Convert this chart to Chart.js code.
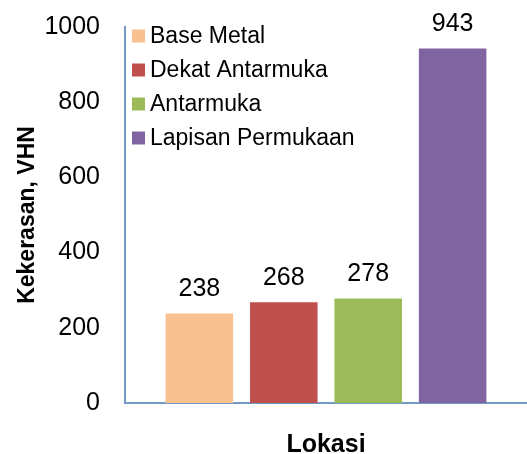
<!DOCTYPE html>
<html>
<head>
<meta charset="utf-8">
<script src="https://cdn.jsdelivr.net/npm/chart.js@4.4.0/dist/chart.umd.min.js"></script>
<style>
  html, body { margin: 0; padding: 0; background: #fff; }
  #wrap { width: 527px; height: 454px; position: relative; }
</style>
</head>
<body>
<div id="wrap"><canvas id="barCanvas"></canvas></div>
<script>
// data
const lokasi = ["Base Metal", "Dekat Antarmuka", "Antarmuka", "Lapisan Permukaan"];
const kekerasan = [238, 268, 278, 943];
const warna = ["#f9c090", "#c0504d", "#9bbb59", "#8064a2"];
const yTicks = [0, 200, 400, 600, 800, 1000];

const axisColor = "#7399c6";
const font = "'Liberation Sans', Arial, sans-serif";

// one dataset per location so each gets its own legend entry
const datasets = lokasi.map((nama, i) => ({
    label: nama,
    data: [kekerasan[i]],
    backgroundColor: warna[i],
    categoryPercentage: 0.84,
    barPercentage: 0.8
}));

// labels above the bars
const valueLabels = {
    id: "valueLabels",
    afterDatasetsDraw(chart) {
        const ctx = chart.ctx;
        ctx.save();
        ctx.font = "25px " + font;
        ctx.fillStyle = "#000";
        ctx.textAlign = "center";
        ctx.textBaseline = "bottom";
        chart.data.datasets.forEach((ds, i) => {
            const bar = chart.getDatasetMeta(i).data[0];
            ctx.fillText(String(ds.data[0]), bar.x, bar.y - 12);
        });
        ctx.restore();
    }
};

// legend drawn inside the plot, top left
const innerLegend = {
    id: "innerLegend",
    afterDraw(chart) {
        const ctx = chart.ctx;
        const left = chart.chartArea.left + 7;
        ctx.save();
        ctx.font = "23px " + font;
        ctx.textBaseline = "middle";
        chart.data.datasets.forEach((ds, i) => {
            const cy = 36 + i * 34;
            ctx.fillStyle = ds.backgroundColor;
            ctx.fillRect(left, cy - 6.5, 13, 13);
            ctx.fillStyle = "#000";
            ctx.fillText(ds.label, left + 18, cy + 1);
        });
        ctx.restore();
    }
};

const barChart = new Chart(document.getElementById("barCanvas"), {
    type: "bar",
    data: {
        labels: [""],
        datasets: datasets
    },
    options: {
        responsive: true,
        maintainAspectRatio: false,
        animation: false,
        layout: {
            padding: { top: 27, right: -10, left: 0, bottom: 0 }
        },
        plugins: {
            legend: { display: false },
            tooltip: { enabled: false }
        },
        scales: {
            x: {
                grid: { display: false, drawTicks: false },
                border: { color: axisColor, width: 2 },
                ticks: { display: false },
                title: {
                    display: true,
                    text: "Lokasi",
                    color: "#000",
                    font: { family: font, size: 25, weight: "bold" },
                    padding: { top: 0, bottom: -6 }
                },
                afterFit(scale) {
                    scale.height = 51;
                    scale.paddingLeft = 0;
                    scale.paddingRight = 0;
                }
            },
            y: {
                min: 0,
                max: 1000,
                grid: { display: false, drawTicks: false },
                border: { color: axisColor, width: 2 },
                afterBuildTicks(scale) {
                    scale.ticks = yTicks.map(v => ({ value: v }));
                },
                ticks: {
                    color: "#000",
                    padding: 25,
                    font: { family: font, size: 25 },
                    callback: v => String(v)
                },
                title: {
                    display: true,
                    text: "Kekerasan, VHN",
                    color: "#000",
                    font: { family: font, size: 23, weight: "bold" },
                    padding: { top: 14, bottom: 0 }
                },
                afterFit(scale) {
                    scale.width = 125;
                    scale.paddingTop = 0;
                    scale.paddingBottom = 0;
                }
            }
        }
    },
    plugins: [valueLabels, innerLegend]
});
</script>
</body>
</html>
